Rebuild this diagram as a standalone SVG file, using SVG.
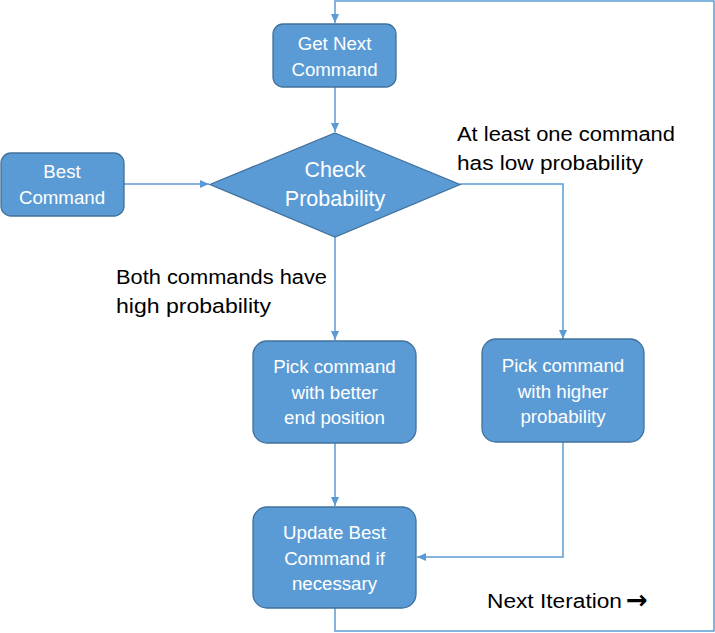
<svg xmlns="http://www.w3.org/2000/svg" width="715" height="633" viewBox="0 0 715 633">
<defs>
<marker id="ah" markerWidth="10" markerHeight="8" refX="9" refY="4" orient="auto" markerUnits="userSpaceOnUse">
<path d="M0,0 L9,4 L0,8 Z" fill="#5B9BD5"/>
</marker>
<style>
.box{fill:#5B9BD5;stroke:#41719C;stroke-width:1.3}
.nt{fill:#fff;font-family:"Liberation Sans",Arial,sans-serif;font-size:18.7px;text-anchor:middle}
.dt{fill:#fff;font-family:"Liberation Sans",Arial,sans-serif;font-size:21.5px;text-anchor:middle}
.lbl{fill:#000;font-family:"Liberation Sans",Arial,sans-serif;font-size:20px}
.conn{fill:none;stroke:#5B9BD5;stroke-width:1.5}
</style>
</defs>
<rect width="715" height="633" fill="#fff"/>
<g id="connectors">
<path class="conn" d="M335,608 V631 H714 V1 H335 V23" marker-end="url(#ah)"/>
<path class="conn" d="M335,87 V132" marker-end="url(#ah)"/>
<path class="conn" d="M124,184 H209" marker-end="url(#ah)"/>
<path class="conn" d="M460,184 H563 V339" marker-end="url(#ah)"/>
<path class="conn" d="M335,237 V340" marker-end="url(#ah)"/>
<path class="conn" d="M335,443 V506" marker-end="url(#ah)"/>
<path class="conn" d="M563,442 V557 H417" marker-end="url(#ah)"/>
</g>
<g id="get-next">
<rect class="box" x="273" y="24" width="123" height="63" rx="10"/>
<text class="nt" x="334.5" y="50">Get Next</text>
<text class="nt" x="334.5" y="76">Command</text>
</g>
<g id="best-command">
<rect class="box" x="1" y="153" width="123" height="63" rx="10"/>
<text class="nt" x="62" y="178">Best</text>
<text class="nt" x="62" y="204">Command</text>
</g>
<g id="check-probability">
<polygon class="box" points="335,133 460,184.5 335,237 210,184.5"/>
<text class="dt" x="335" y="177">Check</text>
<text class="dt" x="335" y="206">Probability</text>
</g>
<g id="pick-better">
<rect class="box" x="253" y="341" width="163" height="102" rx="14"/>
<text class="nt" x="334.5" y="373">Pick command</text>
<text class="nt" x="334.5" y="398.5">with better</text>
<text class="nt" x="334.5" y="424">end position</text>
</g>
<g id="pick-higher">
<rect class="box" x="482" y="339" width="162" height="103" rx="14"/>
<text class="nt" x="563" y="372">Pick command</text>
<text class="nt" x="563" y="397.5">with higher</text>
<text class="nt" x="563" y="423">probability</text>
</g>
<g id="update-best">
<rect class="box" x="253" y="507" width="163" height="101" rx="14"/>
<text class="nt" x="334.5" y="539">Update Best</text>
<text class="nt" x="334.5" y="564.5">Command if</text>
<text class="nt" x="334.5" y="590">necessary</text>
</g>
<g id="labels">
<text class="lbl" x="457" y="141" textLength="218" lengthAdjust="spacingAndGlyphs">At least one command</text>
<text class="lbl" x="457" y="170" textLength="186" lengthAdjust="spacingAndGlyphs">has low probability</text>
<text class="lbl" x="116" y="284" textLength="211" lengthAdjust="spacingAndGlyphs">Both commands have</text>
<text class="lbl" x="116" y="313" textLength="155" lengthAdjust="spacingAndGlyphs">high probability</text>
<text class="lbl" x="487" y="608"><tspan textLength="135" lengthAdjust="spacingAndGlyphs">Next Iteration</tspan><tspan x="626" y="609" font-family="DejaVu Sans,sans-serif" font-size="26px" font-weight="bold">→</tspan></text>
</g>
</svg>
